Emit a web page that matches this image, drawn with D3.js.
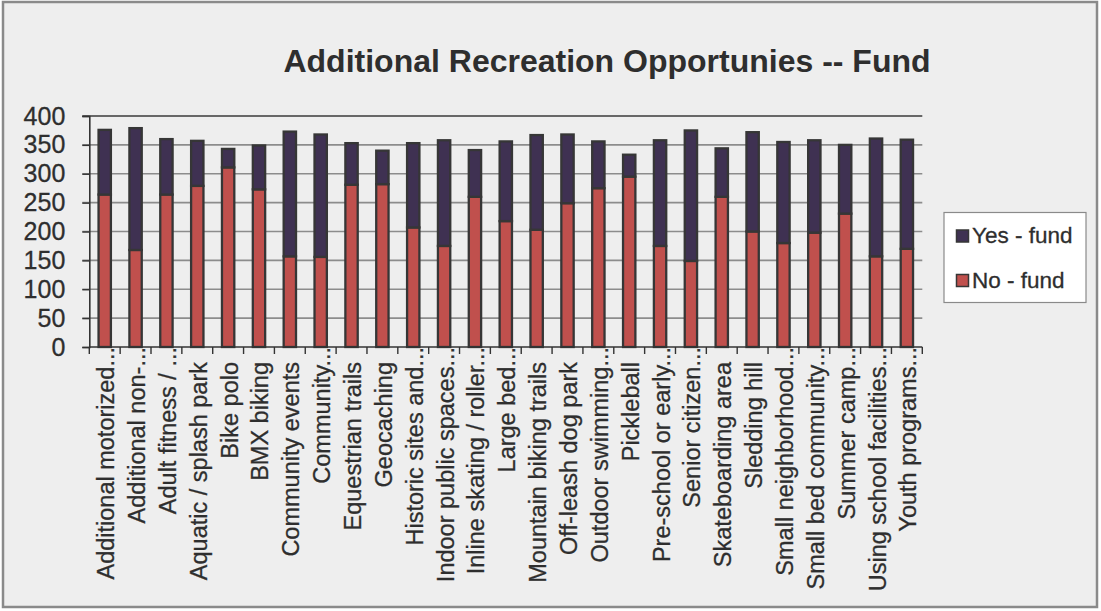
<!DOCTYPE html>
<html>
<head>
<meta charset="utf-8">
<script src="https://cdn.jsdelivr.net/npm/d3@7"></script>
<style>
  html, body { margin: 0; padding: 0; background: #ffffff; }
  svg { display: block; font-family: "Liberation Sans", Arial, sans-serif; }
</style>
</head>
<body>
<svg id="chart" width="1101" height="611"></svg>
<script>
// Survey responses per activity: "No - fund" stacked below "Yes - fund"
const categories = [
  "Additional motorized", "Additional non-", "Adult fitness / ", "Aquatic / splash park",
  "Bike polo", "BMX biking", "Community events", "Community", "Equestrian trails",
  "Geocaching", "Historic sites and", "Indoor public spaces", "Inline skating / roller",
  "Large bed", "Mountain biking trails", "Off-leash dog park", "Outdoor swimming",
  "Pickleball", "Pre-school or early", "Senior citizen", "Skateboarding area",
  "Sledding hill", "Small neighborhood", "Small bed community", "Summer camp",
  "Using school facilities", "Youth programs"
];
// labels shortened with an ellipsis on the axis
const truncated = [
  true, true, true, false, false, false, false, true, false,
  false, true, true, true, true, false, false, true,
  false, true, true, false, false, true, true, true,
  true, true
];
const noFund = [264, 168, 264, 279, 311, 273, 157, 156, 281, 282, 207, 175, 260, 218,
                203, 249, 275, 295, 175, 149, 260, 200, 180, 198, 231, 157, 170];
const yesFund = [112, 211, 96, 78, 32, 76, 216, 212, 72, 58, 146, 183, 81, 138,
                 164, 119, 81, 38, 183, 226, 84, 172, 175, 160, 119, 204, 189];
const yTicks = [0, 50, 100, 150, 200, 250, 300, 350, 400];
const seriesNames = ["Yes - fund", "No - fund"];
const seriesColors = { "Yes - fund": "#3f3152", "No - fund": "#c0504d" };

const svg = d3.select("#chart");
const textColor = "#2e2e2e";

// panel background and frame
svg.append("rect")
  .attr("x", 3).attr("y", 2).attr("width", 1094).attr("height", 605)
  .attr("fill", "#eeeeee").attr("stroke", "#8a8a8a").attr("stroke-width", 2.5);

// title
svg.append("text")
  .attr("x", 607).attr("y", 72)
  .attr("text-anchor", "middle")
  .attr("font-size", 32).attr("font-weight", "bold")
  .attr("fill", textColor)
  .text("Additional Recreation Opportunies -- Fund");

const plot = { left: 89.3, right: 922.3, top: 116, bottom: 347 };

const x = d3.scaleBand()
  .domain(categories)
  .range([plot.left, plot.right])
  .paddingInner(0.6)
  .paddingOuter(0.3);

const y = d3.scaleLinear()
  .domain([0, 400])
  .range([plot.bottom, plot.top]);

// horizontal gridlines
svg.append("g")
  .selectAll("line")
  .data(yTicks.filter(t => t > 0))
  .join("line")
  .attr("x1", plot.left - 7).attr("x2", plot.right)
  .attr("y1", d => y(d)).attr("y2", d => y(d))
  .attr("stroke", d => d === 400 ? "#3a3a3a" : "#8c8c8c")
  .attr("stroke-width", 1.6);

// y axis
const yAxis = svg.append("g")
  .attr("transform", `translate(${plot.left},0)`)
  .call(d3.axisLeft(y).tickValues(yTicks).tickSize(7).tickPadding(17));
yAxis.select(".domain").attr("stroke", "#333333").attr("stroke-width", 1.6);
yAxis.selectAll(".tick line").attr("stroke", "#333333").attr("stroke-width", 1.4);
yAxis.selectAll(".tick text")
  .attr("font-size", 25).attr("fill", textColor)
  .attr("stroke", textColor).attr("stroke-width", 0.3)
  .attr("font-family", "\"Liberation Sans\", Arial, sans-serif");

// stacked bars
const rows = categories.map((c, i) => ({ cat: c, "No - fund": noFund[i], "Yes - fund": yesFund[i] }));
const stack = d3.stack().keys(["No - fund", "Yes - fund"])(rows);

svg.append("g")
  .selectAll("g")
  .data(stack)
  .join("g")
  .attr("fill", d => seriesColors[d.key])
  .selectAll("rect")
  .data(d => d)
  .join("rect")
  .attr("x", d => x(d.data.cat))
  .attr("width", x.bandwidth())
  .attr("y", d => y(d[1]))
  .attr("height", d => y(d[0]) - y(d[1]))
  .attr("stroke", "#363636")
  .attr("stroke-width", 2.3);

// x axis with boundary ticks between categories
const step = x.step();
const bounds = d3.range(categories.length + 1).map(i => plot.left + i * step);
svg.append("line")
  .attr("x1", plot.left).attr("x2", plot.right)
  .attr("y1", plot.bottom).attr("y2", plot.bottom)
  .attr("stroke", "#333333").attr("stroke-width", 1.6);
svg.append("g")
  .selectAll("line")
  .data(bounds)
  .join("line")
  .attr("x1", d => d).attr("x2", d => d)
  .attr("y1", plot.bottom).attr("y2", plot.bottom + 7)
  .attr("stroke", "#333333").attr("stroke-width", 1.4);

// rotated category labels
svg.append("g")
  .selectAll("text")
  .data(categories.map((c, i) => ({ c, t: truncated[i] })))
  .join("text")
  .attr("transform", d => {
    const cx = x(d.c) + x.bandwidth() / 2 + 9.5;
    const yEnd = d.t ? 347 : 362;
    return `translate(${cx},${yEnd}) rotate(-90)`;
  })
  .attr("text-anchor", "end")
  .attr("font-size", 23.5)
  .attr("fill", textColor)
  .attr("stroke", textColor).attr("stroke-width", 0.3)
  .text(d => d.t ? d.c + "..." : d.c);

// legend
const legend = svg.append("g");
legend.append("rect")
  .attr("x", 944).attr("y", 212.5).attr("width", 142).attr("height", 90)
  .attr("fill", "#ffffff").attr("stroke", "#8a8a8a").attr("stroke-width", 1.2);
const legendY = d3.scalePoint().domain(seriesNames).range([243, 287.5]);
const items = legend.selectAll("g.item")
  .data(seriesNames)
  .join("g")
  .attr("class", "item")
  .attr("transform", d => `translate(0,${legendY(d)})`);
items.append("rect")
  .attr("x", 956.5).attr("y", -13).attr("width", 12).attr("height", 12)
  .attr("fill", d => seriesColors[d])
  .attr("stroke", "#363636").attr("stroke-width", 1.5);
items.append("text")
  .attr("x", 972).attr("y", 0)
  .attr("font-size", 22.5)
  .attr("fill", textColor)
  .attr("stroke", textColor).attr("stroke-width", 0.3)
  .text(d => d);
</script>
</body>
</html>
